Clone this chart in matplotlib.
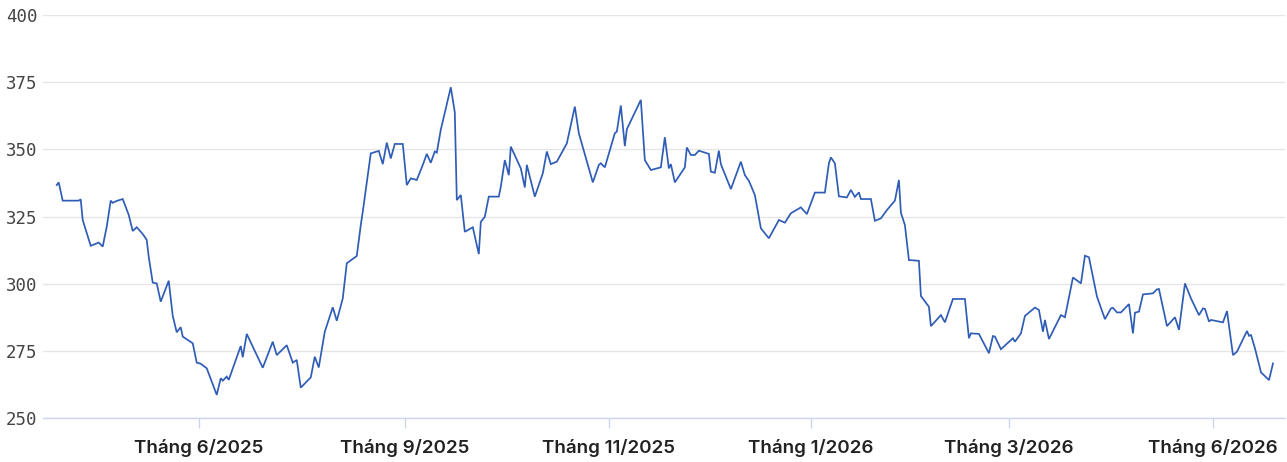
import matplotlib
matplotlib.use("Agg")
import matplotlib.pyplot as plt

# session index (trading-day position) and price of each vertex of the line
sessions = [0, 1, 3, 11, 12, 13, 17, 21, 23, 25, 27, 28, 30, 33, 36, 38, 40, 43, 45, 46,
            48, 50, 52, 56, 58, 60, 62, 63, 68, 70, 72, 75, 80, 82, 83, 85, 86, 92, 93, 95,
            103, 108, 110, 115, 118, 120, 122, 127, 129, 131, 134, 138, 140, 143, 145, 150,
            152, 153, 157, 161, 163, 165, 167, 169, 173, 175, 177, 180, 183, 185, 187, 189,
            190, 192, 197, 199, 200, 202, 204, 208, 211, 212, 214, 216, 221, 222, 224, 226,
            227, 232, 234, 235, 239, 243, 245, 247, 250, 255, 259, 261, 268, 271, 272, 274,
            279, 280, 282, 284, 285, 292, 294, 297, 302, 304, 306, 307, 309, 314, 315, 317,
            319, 321, 326, 327, 329, 331, 332, 337, 342, 344, 346, 349, 352, 356, 361, 364,
            367, 372, 375, 379, 384, 386, 387, 389, 391, 395, 397, 399, 401, 402, 407, 409,
            412, 415, 419, 421, 422, 424, 426, 431, 432, 436, 437, 442, 444, 448, 454, 456,
            457, 461, 466, 468, 469, 472, 478, 479, 482, 484, 489, 491, 493, 494, 496, 502,
            504, 508, 512, 514, 516, 520, 524, 527, 528, 530, 532, 536, 538, 539, 541, 543,
            548, 550, 551, 555, 559, 561, 564, 567, 571, 573, 574, 576, 577, 583, 585, 588,
            590, 595, 596, 597, 599, 602, 606, 608]
prices = [336.7, 337.7, 330.9, 330.9, 331.4, 323.7, 314.1, 315.3, 313.8, 321.2, 330.9, 330.1,
          330.8, 331.5, 325.6, 319.6, 321.0, 318.5, 316.3, 310.0, 300.4, 300.1, 293.3, 301.1,
          288.0, 281.9, 283.8, 280.3, 277.8, 270.6, 270.2, 268.5, 258.6, 264.8, 263.9, 265.4,
          264.2, 276.8, 272.6, 281.3, 268.7, 278.4, 273.4, 277.1, 270.6, 271.6, 261.3, 265.1,
          272.8, 268.8, 282.1, 291.2, 286.2, 294.5, 307.6, 310.3, 321.8, 326.8, 348.5, 349.4,
          344.5, 352.5, 346.6, 352.0, 352.0, 336.7, 339.2, 338.6, 344.2, 348.3, 345.0, 349.2,
          348.8, 357.3, 373.1, 363.8, 331.1, 333.0, 319.3, 321.0, 311.0, 323.0, 324.9, 332.4,
          332.4, 336.1, 346.0, 340.4, 351.0, 342.9, 335.8, 344.2, 332.4, 341.1, 349.2, 344.5,
          345.4, 352.2, 365.9, 356.0, 337.7, 344.2, 344.8, 343.3, 356.0, 356.6, 366.3, 351.2,
          357.5, 368.4, 346.0, 342.3, 343.3, 354.5, 342.9, 344.5, 337.7, 343.3, 350.7, 347.9,
          347.9, 349.5, 348.3, 341.7, 341.3, 349.5, 344.5, 335.2, 345.4, 340.4, 338.3, 333.0,
          320.6, 316.9, 323.7, 322.7, 326.2, 328.4, 325.9, 333.9, 333.9, 344.8, 347.0, 344.8,
          332.5, 332.1, 334.9, 332.3, 334.0, 331.5, 331.5, 323.4, 324.3, 327.4, 330.9, 338.6,
          326.4, 321.8, 308.8, 308.5, 295.4, 291.4, 284.2, 288.3, 285.6, 294.3, 294.3, 279.7,
          281.5, 281.3, 274.1, 280.5, 280.3, 275.6, 279.7, 278.4, 281.5, 288.0, 291.1, 290.2,
          282.1, 286.5, 279.4, 288.3, 287.5, 302.3, 300.1, 310.4, 309.8, 295.2, 286.8, 290.8,
          291.0, 289.3, 289.3, 292.4, 281.5, 289.2, 289.6, 296.0, 296.4, 297.9, 298.0, 284.2,
          287.5, 282.8, 300.1, 294.5, 288.3, 290.8, 290.6, 285.9, 286.5, 285.6, 289.8, 273.4,
          274.7, 282.4, 280.6, 280.9, 275.9, 267.0, 264.1, 270.3]

tick_sessions = [71, 174, 276, 377, 476, 578]
tick_labels = ["Tháng 6/2025", "Tháng 9/2025", "Tháng 11/2025",
               "Tháng 1/2026", "Tháng 3/2026", "Tháng 6/2026"]
y_ticks = [250, 275, 300, 325, 350, 375, 400]

fig = plt.figure(figsize=(12.87, 4.62), dpi=100)
ax = fig.add_axes([43.3 / 1287, 1 - 418 / 462, (1285 - 43.3) / 1287, (418 - 15) / 462])

ax.plot(sessions, prices, color="#2f5db6", lw=1.25, solid_joinstyle="miter", zorder=3)

ax.set_xlim(-6.7, 614)
ax.set_ylim(250, 400)
ax.set_yticks(y_ticks)
ax.set_yticklabels([str(v) for v in y_ticks], family="DejaVu Sans Mono",
                   fontsize=12.5, color="#444444")
ax.yaxis.grid(True, color="#e6e6e6", lw=1.0)
ax.set_axisbelow(True)
ax.tick_params(axis="y", length=0, pad=4)

ax.set_xticks(tick_sessions)
ax.set_xticklabels(tick_labels, family="Inter", fontweight="semibold",
                   fontsize=13.5, color="#222222")
ax.tick_params(axis="x", length=7, width=1, color="#ccd6eb", pad=8)

for s in ["top", "right", "left"]:
    ax.spines[s].set_visible(False)
ax.spines["bottom"].set_color("#ccd6eb")
ax.spines["bottom"].set_linewidth(1.0)

fig.savefig("out.png", dpi=100, facecolor="white")
